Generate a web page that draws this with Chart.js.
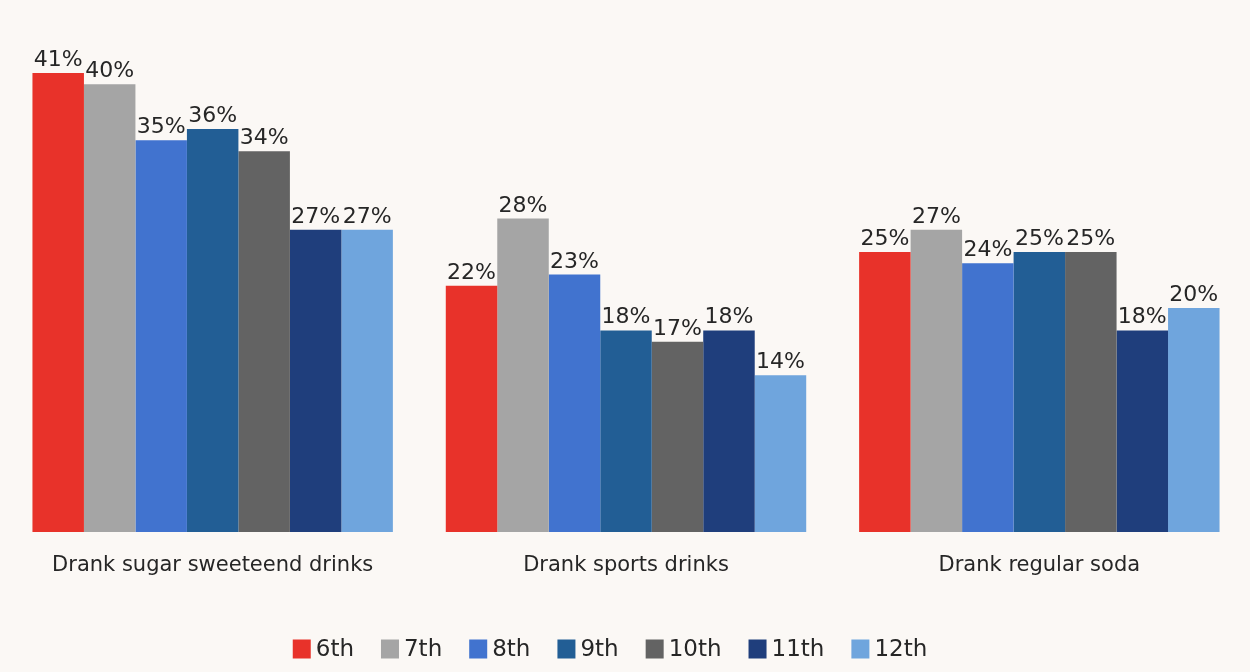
<!DOCTYPE html>
<html>
<head>
<meta charset="utf-8">
<script src="https://cdn.jsdelivr.net/npm/chart.js@4/dist/chart.umd.min.js"></script>
<style>
  html, body { margin: 0; padding: 0; background: #fbf8f5; }
  #wrap { width: 1250px; height: 672px; position: relative; }
</style>
</head>
<body>
<div id="wrap"><canvas id="chart"></canvas></div>
<script>
const categories = ['Drank sugar sweeteend drinks', 'Drank sports drinks', 'Drank regular soda'];
const grades = ['6th', '7th', '8th', '9th', '10th', '11th', '12th'];
const colors = ['#e8322a', '#a5a5a5', '#4173cf', '#225e95', '#636363', '#1f3e7c', '#6fa5dd'];
const grade6 = [41, 22, 25];
const grade7 = [40, 28, 27];
const grade8 = [35, 23, 24];
const grade9 = [36, 18, 25];
const grade10 = [34, 17, 25];
const grade11 = [27, 18, 18];
const grade12 = [27, 14, 20];
const seriesValues = [grade6, grade7, grade8, grade9, grade10, grade11, grade12];

const FONT = "'DejaVu Sans', sans-serif";

// percent labels above each bar
const valueLabels = {
  id: 'valueLabels',
  afterDatasetsDraw(chart) {
    const ctx = chart.ctx;
    ctx.save();
    ctx.font = '22px ' + FONT;
    ctx.fillStyle = '#262626';
    ctx.textAlign = 'center';
    ctx.textBaseline = 'alphabetic';
    chart.data.datasets.forEach((ds, i) => {
      chart.getDatasetMeta(i).data.forEach((bar, j) => {
        ctx.fillText(ds.data[j] + '%', bar.x, bar.y - 7);
      });
    });
    ctx.restore();
  }
};

// legend drawn by hand: the built-in one puts too much room between box and text
const bottomLegend = {
  id: 'bottomLegend',
  afterDraw(chart) {
    const ctx = chart.ctx;
    const boxW = 18, boxH = 19, gap = 5, spacing = 27;
    const cy = 649;
    ctx.save();
    ctx.font = '23px ' + FONT;
    const items = chart.data.datasets.map((ds) => ({
      text: ds.label,
      color: ds.backgroundColor,
      w: boxW + gap + ctx.measureText(ds.label).width,
    }));
    const total = items.reduce((s, it) => s + it.w, 0) + spacing * (items.length - 1);
    let x = chart.width / 2 - 15 - total / 2;
    ctx.textBaseline = 'middle';
    ctx.textAlign = 'left';
    items.forEach((it) => {
      ctx.fillStyle = it.color;
      ctx.fillRect(x, cy - boxH / 2, boxW, boxH);
      ctx.fillStyle = '#262626';
      ctx.fillText(it.text, x + boxW + gap, cy + 1);
      x += it.w + spacing;
    });
    ctx.restore();
  }
};

new Chart(document.getElementById('chart'), {
  type: 'bar',
  data: {
    labels: categories,
    datasets: grades.map((g, i) => ({
      label: g,
      data: seriesValues[i],
      backgroundColor: colors[i],
      barPercentage: 1.0,
      categoryPercentage: 0.872,
    })),
  },
  options: {
    responsive: true,
    maintainAspectRatio: false,
    animation: false,
    layout: { padding: { left: 6, right: 4, top: 73, bottom: 0 } },
    scales: {
      x: {
        grid: { display: false },
        border: { display: false },
        ticks: { color: '#262626', font: { family: FONT, size: 21 }, padding: 13 },
        afterFit(scale) { scale.height = 140; },
      },
      y: {
        display: false,
        min: 0,
        max: 41,
      },
    },
    plugins: {
      legend: { display: false },
      tooltip: { enabled: false },
    },
  },
  plugins: [valueLabels, bottomLegend],
});
</script>
</body>
</html>
